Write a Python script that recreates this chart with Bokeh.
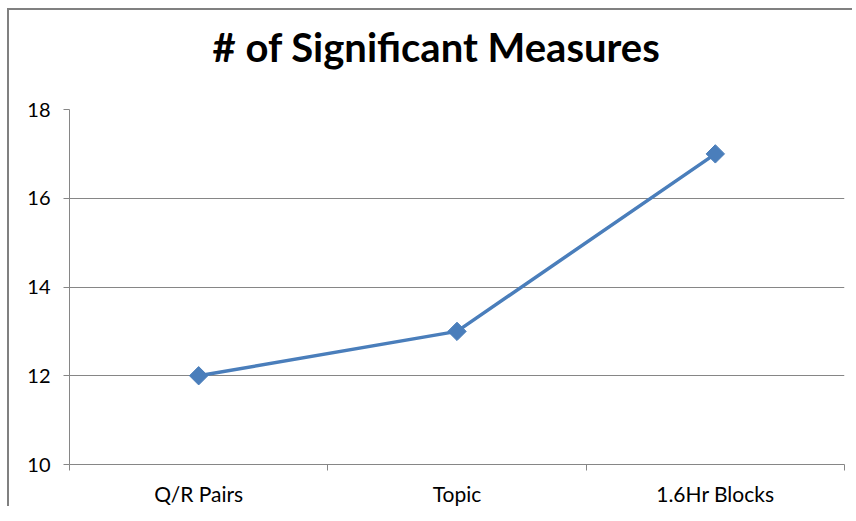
import math
from bokeh.plotting import figure
from bokeh.models import Range1d, LinearAxis, FixedTicker, Title, ColumnDataSource
from bokeh.embed import file_html
from bokeh.resources import INLINE

categories = ["Q/R Pairs", "Topic", "1.6Hr Blocks"]
measures = [12, 13, 17]
y_ticks = [10, 12, 14, 16, 18]
title_text = "# of Significant Measures"

GRAY = "#868686"
BLUE = "#4a7ebb"
FONT = "Lato"

n = len(categories)
xpos = [i + 0.5 for i in range(n)]

p = figure(width=845, height=498, x_range=Range1d(0, n), y_range=Range1d(10, 18),
           output_backend="svg", toolbar_location=None, x_axis_location=None,
           y_axis_location=None, min_border_left=60, min_border_right=10,
           min_border_top=99, min_border_bottom=10)
p.styles = {"border-left": "2px solid #808080", "border-top": "2px solid #808080",
            "border-right": "none", "border-bottom": "none",
            "margin-left": "7px", "margin-top": "8px"}
p.outline_line_color = None
p.background_fill_color = "white"
p.border_fill_color = "white"
p.xgrid.grid_line_color = None
p.ygrid.grid_line_color = GRAY
p.ygrid.ticker = FixedTicker(ticks=y_ticks)

# spacer between title and plot area, then the title itself
p.add_layout(Title(text=" ", text_font_size="1px", standoff=36), "above")
p.add_layout(Title(text=title_text, align="left", offset=143, vertical_align="bottom",
                   standoff=0, text_font=FONT, text_font_style="bold",
                   text_font_size="40px", text_color="#000000"), "above")

# y axis
yax = LinearAxis(ticker=FixedTicker(ticks=y_ticks), major_tick_in=0, major_tick_out=6,
                 minor_tick_line_color=None, axis_line_color=GRAY, major_tick_line_color=GRAY,
                 major_label_standoff=13, major_label_text_font=FONT,
                 major_label_text_font_size="20px", major_label_text_color="#000000")
p.add_layout(yax, "left")

# bottom axis with ticks at category boundaries
bounds = list(range(n + 1))
tax = LinearAxis(ticker=FixedTicker(ticks=bounds),
                 major_label_overrides={b: "" for b in bounds},
                 major_tick_in=0, major_tick_out=6, minor_tick_line_color=None,
                 axis_line_color=GRAY, major_tick_line_color=GRAY,
                 major_label_standoff=0)
p.add_layout(tax, "below")

# category labels at centers
cax = LinearAxis(ticker=FixedTicker(ticks=xpos),
                 major_label_overrides={x: c for x, c in zip(xpos, categories)},
                 major_tick_line_color=None, minor_tick_line_color=None, axis_line_color=None,
                 major_label_standoff=4, major_label_text_font=FONT,
                 major_label_text_font_size="21px", major_label_text_color="#000000")
p.add_layout(cax, "below")

src = ColumnDataSource(data=dict(x=xpos, y=measures))
p.line("x", "y", source=src, line_color=BLUE, line_width=3.5)
p.scatter("x", "y", source=src, marker="square", angle=math.pi / 4, size=13,
          fill_color=BLUE, line_color=BLUE)

open("out.html", "w").write(file_html(p, INLINE))
